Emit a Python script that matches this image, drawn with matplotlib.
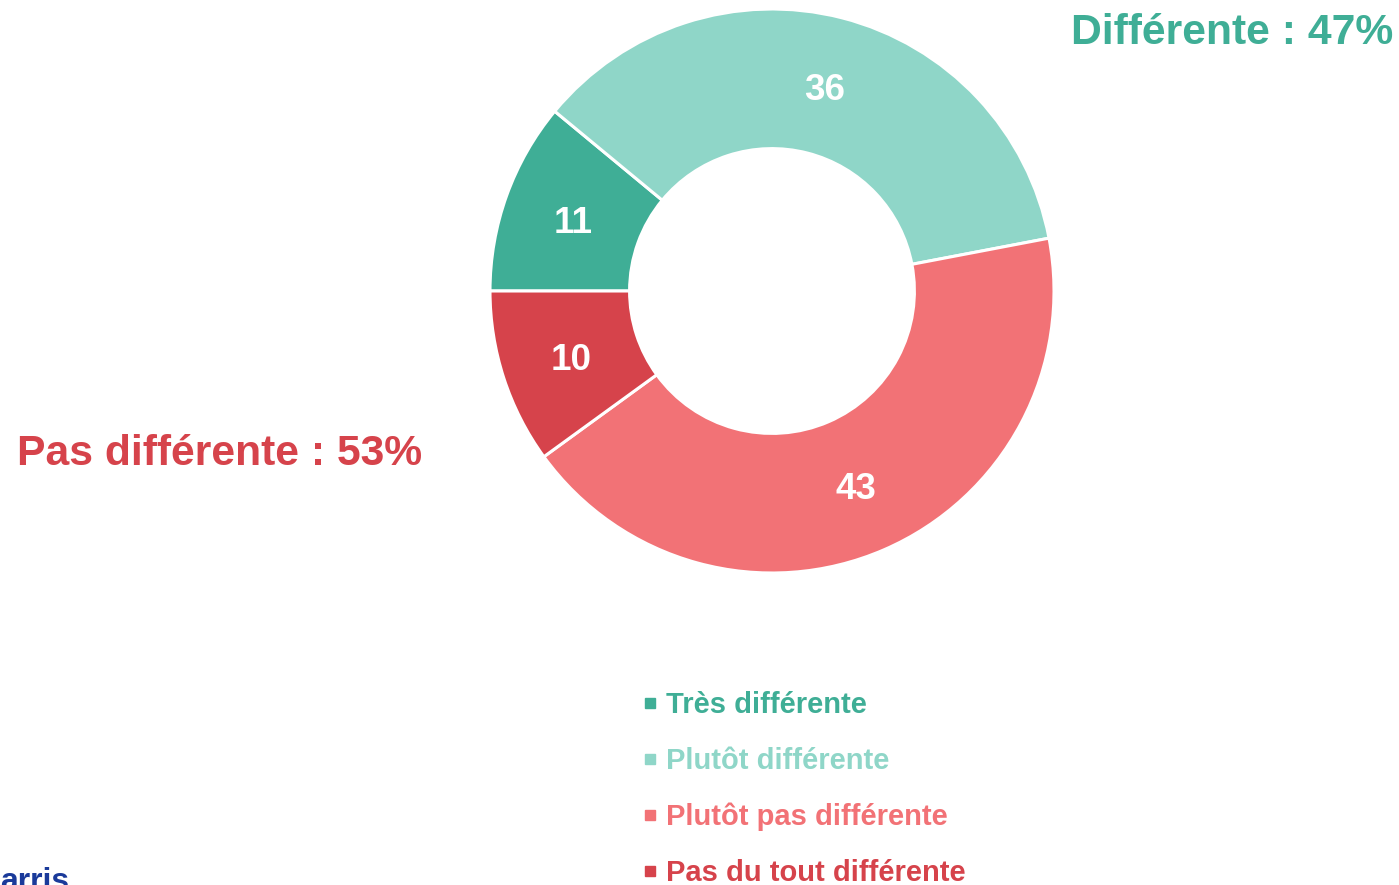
import matplotlib
matplotlib.use("Agg")
import matplotlib.pyplot as plt
from matplotlib.lines import Line2D

plt.rcParams['font.family'] = ['Liberation Sans', 'DejaVu Sans']

categories = ["Très différente", "Plutôt différente", "Plutôt pas différente", "Pas du tout différente"]
values = [11, 36, 43, 10]
colors = ["#3FAE96", "#8FD6C8", "#F27276", "#D6434B"]
group_labels = ["Différente : 47%", "Pas différente : 53%"]
group_colors = ["#3FAE96", "#D6434B"]

W, H = 1399, 885
fig = plt.figure(figsize=(W / 100, H / 100), dpi=100)

cx, cy, R = 772, 291, 282
ax = fig.add_axes([(cx - R) / W, (H - cy - R) / H, 2 * R / W, 2 * R / H])
wedges, texts = ax.pie(values, colors=colors, startangle=180, counterclock=False,
                       radius=1, labels=[str(v) for v in values], labeldistance=0.75,
                       wedgeprops=dict(width=0.495, edgecolor="white", linewidth=2.2),
                       textprops=dict(color="white", fontsize=26.5, fontweight="bold",
                                      ha="center", va="center_baseline"))
ax.set_xlim(-1, 1)
ax.set_ylim(-1, 1)
ax.set_aspect("equal")
ax.axis("off")

fig.text(1393 / W, 1 - 29 / H, group_labels[0], color=group_colors[0], fontsize=30.7,
         fontweight="bold", ha="right", va="center_baseline")
fig.text(17 / W, 1 - 449 / H, group_labels[1], color=group_colors[1], fontsize=30.7,
         fontweight="bold", ha="left", va="center_baseline")

handles = [Line2D([], [], marker="s", ls="", color=c, markersize=6.5) for c in colors]
fig.legend(handles, categories, loc="upper left", bbox_to_anchor=(643 / W, 1 - 691 / H),
           frameon=False, labelcolor=colors, prop=dict(size=21, weight="bold"),
           handlelength=0.5, handletextpad=0.3, labelspacing=0.955, borderpad=0,
           borderaxespad=0)

fig.text(0, 1 - 897 / H, "arris", color="#1A3A9A", fontsize=23, fontweight="bold",
         ha="left", va="bottom")

fig.savefig("out.png", dpi=100)
